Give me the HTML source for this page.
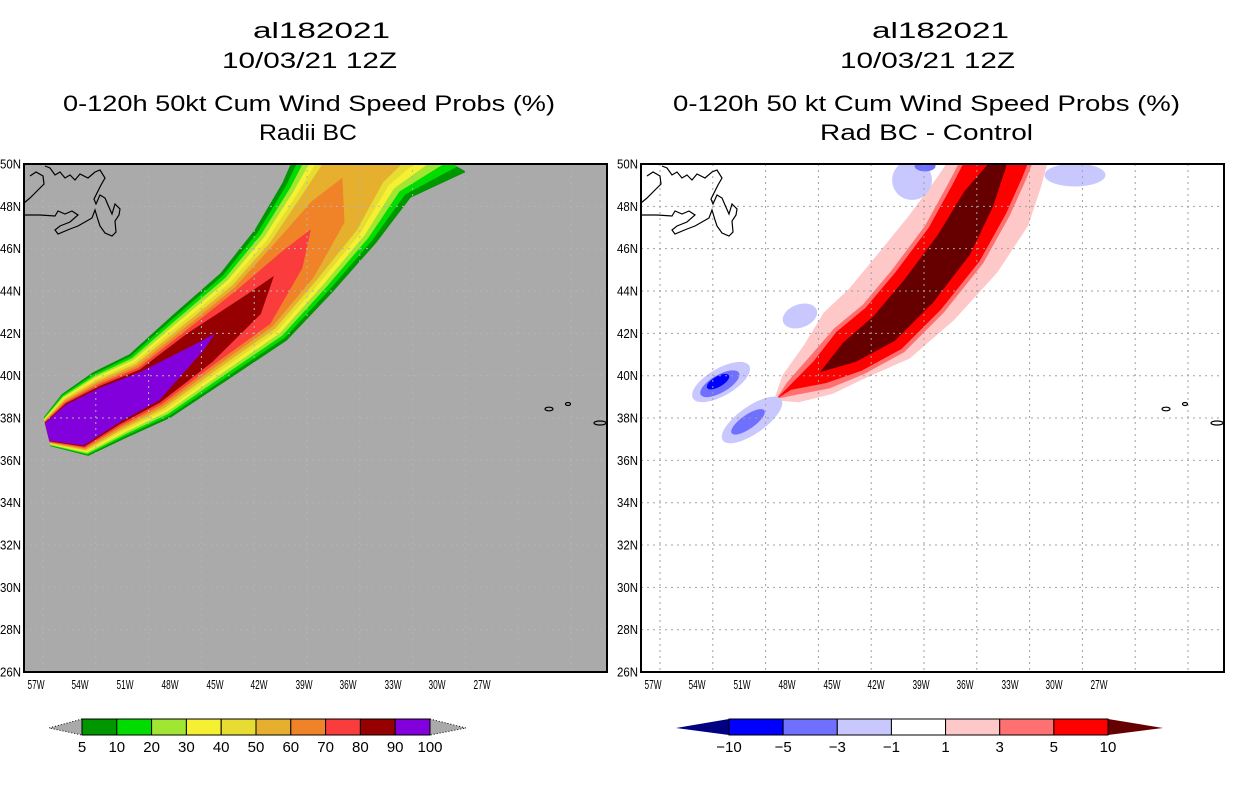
<!DOCTYPE html>
<html><head><meta charset="utf-8">
<style>
html,body{margin:0;padding:0;background:#fff;}
svg{display:block;font-family:"Liberation Sans",sans-serif;}
</style></head>
<body>
<svg id="fig" width="1236" height="800" viewBox="0 0 1236 800" xmlns="http://www.w3.org/2000/svg">
<defs>
<clipPath id="clipL"><rect x="24" y="164" width="583" height="508"/></clipPath>
<clipPath id="clipR"><rect x="641" y="164" width="583" height="508"/></clipPath>
</defs>
<g font-size="22" text-anchor="start">
<text x="253" y="38" textLength="137" lengthAdjust="spacingAndGlyphs">al182021</text>
<text x="222" y="68" textLength="175" lengthAdjust="spacingAndGlyphs">10/03/21 12Z</text>
<text x="63" y="111" textLength="492" lengthAdjust="spacingAndGlyphs">0-120h 50kt Cum Wind Speed Probs (%)</text>
<text x="259" y="140" textLength="98" lengthAdjust="spacingAndGlyphs">Radii BC</text>
</g>
<g font-size="22">
<text x="872" y="38" textLength="137" lengthAdjust="spacingAndGlyphs">al182021</text>
<text x="840" y="68" textLength="175" lengthAdjust="spacingAndGlyphs">10/03/21 12Z</text>
<text x="673" y="111" textLength="507" lengthAdjust="spacingAndGlyphs">0-120h 50 kt Cum Wind Speed Probs (%)</text>
<text x="820" y="140" textLength="213" lengthAdjust="spacingAndGlyphs">Rad BC - Control</text>
</g>
<rect x="24" y="164" width="583" height="508" fill="#aaaaaa"/>
<rect x="641" y="164" width="583" height="508" fill="#ffffff"/>
<g id="leftContours" clip-path="url(#clipL)"></g>
<g id="rightContours" clip-path="url(#clipR)"></g>
<g id="grids"></g>
<g id="coasts" fill="none" stroke="#000" stroke-width="1.2"></g>
<g id="axes"></g>
<g id="cbars"></g>
</svg>
<script>
// ---- map projection ----
const PANEL_OFF = [0, 617];
function X(lon, p){ return PANEL_OFF[p] + 43 + (57 - lon) * 17.6; }
function Y(lat){ return 164 + (50 - lat) * 21.17; }
const DEG = 21;

// ---- left panel data: swath centerline and band widths (deg) ----
const trackLon = [56.77,55.18,53.19,50.92,48.08,45.24,42.97,40.98,39.56,38.14];
const trackLat = [37.34,37.67,38.62,39.51,41.36,43.43,45.56,47.83,50.0,52.08];
const outerUpper = [0.7,1.6,1.75,1.8,2.0,2.0,2.15,2.4,2.6,2.6];
const outerLower = [0.7,1.6,1.75,1.8,2.05,2.5,2.6,2.9,3.3,5.0];
const levelStep = [0.03,0.06,0.09,0.11,0.14,0.16,0.19,0.22,0.3,0.5];
const probLevels = [5,10,20,30,40,50,60,70,80,90,100];
const levelEnd = [99,99,99,99,99,99,7.7,6.6,5.6,4.3];
const probColors = ['#009600','#00dc00','#a0e632','#f5f032','#e6dc32','#e6af2d','#f08228','#fa3c3c','#960000','#8200dc'];

// ---- right panel data ----
const diffLon = [50.4,49.61,47.91,46.20,44.22,42.23,40.24,38.82,37.80,37.0];
const diffLat = [38.9,39.42,40.17,41.07,42.16,43.95,46.17,48.30,49.95,51.37];
const pinkU   = [0.1,0.7,1.5,2.3,2.6,2.7,2.6,2.3,2.1,2.0];
const pinkL   = [0.1,0.8,1.2,1.4,1.8,2.1,2.4,2.6,2.3,2.0];
const salmonU = [0,0.3,0.9,1.4,1.6,1.7,1.7,1.7,1.7,1.6];
const salmonL = [0,0.4,0.9,1.2,1.4,1.5,1.6,1.6,1.5,1.4];
const redU    = [0,0.1,0.6,1.2,1.4,1.5,1.5,1.5,1.5,1.4];
const redL    = [0,0.1,0.6,1.0,1.2,1.3,1.4,1.4,1.3,1.2];
const darkU   = [0,0,0,0.6,0.85,0.95,0.95,0.85,0.4,0];
const darkL   = [0,0,0,0.5,0.7,0.8,0.85,0.7,0.4,0];
// negative blobs: lon, lat, rx, ry (deg), rotation, level index (0 pale,1 medium,2 blue)
const blobLon = [53.53,53.60,53.70,51.77,52.00,49.05,42.68,41.94,33.42];
const blobLat = [39.70,39.62,39.72,37.91,37.82,42.82,49.24,49.90,49.48];
const blobRx  = [1.55,1.05,0.6,1.7,0.95,0.85,0.95,0.5,1.45];
const blobRy  = [0.65,0.42,0.25,0.65,0.33,0.55,0.95,0.25,0.55];
const blobRot = [-30,-30,-30,-35,-35,-20,0,0,0];
const blobLvl = [0,1,2,0,1,0,0,1,0];
const negColors = ['#c8c8ff','#7070ff','#0000ff'];

const NS='http://www.w3.org/2000/svg';
function mk(tag, attrs, parent){ const e=document.createElementNS(NS,tag); for(const k in attrs) e.setAttribute(k,attrs[k]); parent.appendChild(e); return e; }

function bandPoints(lons,lats,U,L,p,end){
  const P = lons.map((lo,i)=>[X(lo,p),Y(lats[i])]);
  const n=P.length, up=[], low=[];
  for(let i=0;i<n;i++){
    if(i>end) break;
    const a=P[Math.max(0,i-1)], b=P[Math.min(n-1,i+1)];
    let tx=b[0]-a[0], ty=b[1]-a[1]; const m=Math.hypot(tx,ty); tx/=m; ty/=m;
    const nx=ty, ny=-tx;
    const taper=Math.min(1,Math.max(0,end-i));
    const u=Math.max(0,U[i])*DEG*taper, l=Math.max(0,L[i])*DEG*taper;
    up.push([P[i][0]+nx*u,P[i][1]+ny*u]);
    low.push([P[i][0]-nx*l,P[i][1]-ny*l]);
  }
  if(end<n-1){
    const i=Math.floor(end), f=end-i;
    const c=[P[i][0]+(P[i+1][0]-P[i][0])*f, P[i][1]+(P[i+1][1]-P[i][1])*f];
    up.push(c);
  }
  return up.concat(low.reverse()).map(q=>q[0].toFixed(1)+','+q[1].toFixed(1)).join(' ');
}

// left contours
const gL=document.getElementById('leftContours');
probColors.forEach((col,k)=>{
  const U=outerUpper.map((w,i)=>Math.max(0.05,w-k*levelStep[i]));
  const L=outerLower.map((w,i)=>Math.max(0.05,w-k*levelStep[i]));
  const poly=mk('polygon',{points:bandPoints(trackLon,trackLat,U,L,0,levelEnd[k]),fill:col},gL);
  
  
});

// right contours
const gR=document.getElementById('rightContours');
[[pinkU,pinkL,'#ffc8c8','diff-band-1'],[salmonU,salmonL,'#ff7070','diff-band-3'],[redU,redL,'#ff0000','diff-band-5'],[darkU,darkL,'#660000','diff-band-10']].forEach(b=>{
  const poly=mk('polygon',{points:bandPoints(diffLon,diffLat,b[0],b[1],1,99),fill:b[2]},gR);
  
  
});
blobLon.forEach((lo,i)=>{
  const cx=X(lo,1), cy=Y(blobLat[i]);
  const e=mk('ellipse',{cx:cx,cy:cy,rx:blobRx[i]*DEG,ry:blobRy[i]*DEG,transform:'rotate('+blobRot[i]+' '+cx+' '+cy+')',fill:negColors[blobLvl[i]]},gR);
  
  
});

// gridlines
const gG=document.getElementById('grids');
const gridLons=[57,54,51,48,45,42,39,36,33,30,27];
const gridLats=[28,30,32,34,36,38,40,42,44,46,48];
[0,1].forEach(p=>{
  const col = p===0 ? '#b4b4b4' : '#a0a0a0';
  gridLons.forEach(lo=>{ const l=mk('line',{x1:X(lo,p),x2:X(lo,p),y1:164,y2:672,stroke:col,'stroke-dasharray':'2,4','stroke-width':1},gG);
      });
  gridLats.forEach(la=>{ const l=mk('line',{x1:24+PANEL_OFF[p],x2:607+PANEL_OFF[p],y1:Y(la),y2:Y(la),stroke:col,'stroke-dasharray':'2,4','stroke-width':1},gG);
      });
});

// coastlines (Newfoundland/Labrador + Azores), pixel offsets within panel
const nfld="24,215 40,215 55,216 58,211 65,214 72,211 78,215 70,222 60,226 55,230 58,234 70,229 78,226 85,222 92,218 95,210 98,220 100,226 105,233 112,236 116,232 115,221 119,215 120,209 115,204 112,214 108,205 105,198 100,195 96,204 94,199 98,191 101,185 105,178 100,170 95,172 88,178 80,174 75,180 70,175 65,178 60,172 55,175 50,168 45,166";
const lab="24,203 30,198 38,190 44,184 43,176 36,172 30,176";
const gC=document.getElementById('coasts');
[0,1].forEach(p=>{
  const shift=s=>s.split(' ').map(q=>{const v=q.split(',');return (+v[0]+PANEL_OFF[p])+','+v[1];}).join(' ');
  let e=mk('polyline',{points:shift(nfld)},gC);  
  e=mk('polyline',{points:shift(lab)},gC);  
  [[549,409,4,1.8],[568,404,2.5,1.5],[600,423,6,2]].forEach(a=>{
    e=mk('ellipse',{cx:a[0]+PANEL_OFF[p],cy:a[1],rx:a[2],ry:a[3]},gC);  
  });
});

// axes
const gA=document.getElementById('axes');
const lonLabelX=[36,80,125,170,215,259,304,348,393,437,482];
const lonLabels=['57W','54W','51W','48W','45W','42W','39W','36W','33W','30W','27W'];
const latLabels=['26N','28N','30N','32N','34N','36N','38N','40N','42N','44N','46N','48N','50N'];
const latVals=[26,28,30,32,34,36,38,40,42,44,46,48,50];
[0,1].forEach(p=>{
  const off=PANEL_OFF[p];
  let r=mk('rect',{x:24+off,y:164,width:583,height:508,fill:'none',stroke:'#000','stroke-width':2},gA);
   
  lonLabels.forEach((t,i)=>{
    const tx=mk('text',{x:lonLabelX[i]+off,y:689,'font-size':13,'text-anchor':'middle',textLength:17,lengthAdjust:'spacingAndGlyphs'},gA);
    tx.textContent=t;  
  });
  latLabels.forEach((t,i)=>{
    const tx=mk('text',{x:21+off,y:Y(latVals[i])+4.5,'font-size':13,'text-anchor':'end',textLength:21,lengthAdjust:'spacingAndGlyphs'},gA);
    tx.textContent=t;  
  });
});

// colorbars
const gB=document.getElementById('cbars');
const leftBarLabels=['5','10','20','30','40','50','60','70','80','90','100'];
const rightBarLabels=['\u221210','\u22125','\u22123','\u22121','1','3','5','10'];
const rightBarColors=['#0000ff','#7070ff','#c8c8ff','#ffffff','#ffc8c8','#ff7070','#ff0000'];
function colorbar(x0,x1,tipL,tipR,cols,labels,endL,endR,dashed,name){
  const w=(x1-x0)/cols.length;
  let t=mk('polygon',{points:x0+',719 '+tipL+',728 '+x0+',735',fill:endL,stroke:dashed?'#000':'none','stroke-dasharray':dashed?'1,2':'none'},gB);
   
  t=mk('polygon',{points:x1+',719 '+tipR+',728 '+x1+',735',fill:endR,stroke:dashed?'#000':'none','stroke-dasharray':dashed?'1,2':'none'},gB);
   
  cols.forEach((c,i)=>{
    const r=mk('rect',{x:x0+i*w,y:719,width:w,height:16,fill:c,stroke:'#000','stroke-width':1},gB);
     
  });
  labels.forEach((l,i)=>{
    const tx=mk('text',{x:x0+i*w,y:752,'font-size':15,'text-anchor':'middle'},gB);
    tx.textContent=l;  
  });
}
colorbar(82,430,49,466,probColors,leftBarLabels,'#aaaaaa','#aaaaaa',true,'prob-colorbar');
colorbar(729,1108,676,1163,rightBarColors,rightBarLabels,'#000080','#660000',false,'diff-colorbar');
</script>
</body></html>
